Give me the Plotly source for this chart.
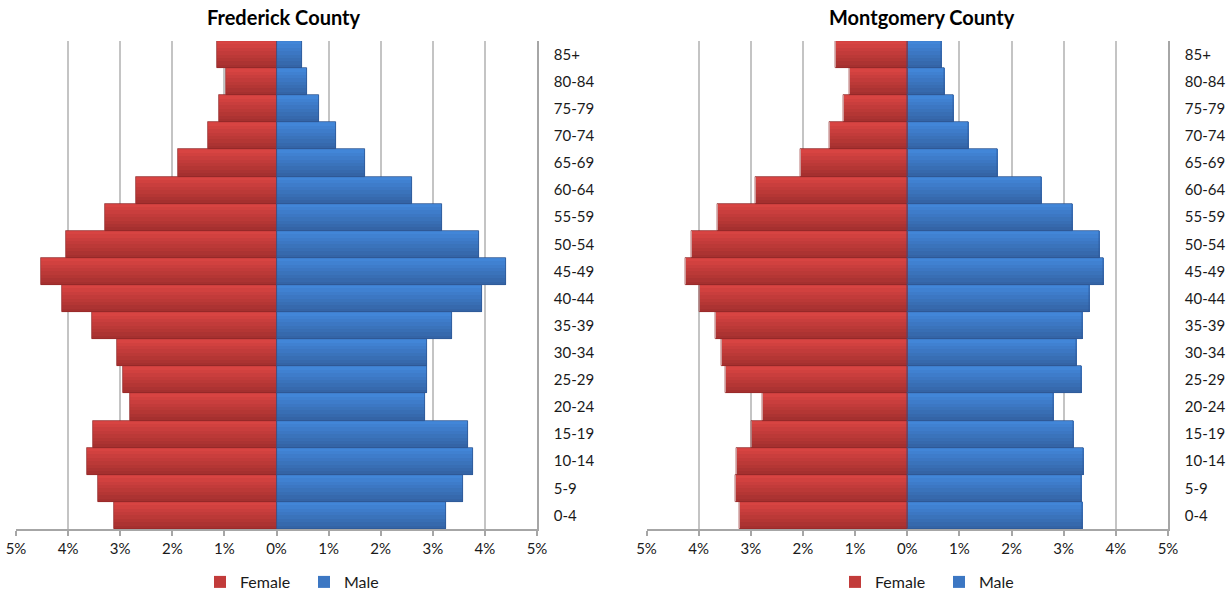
import plotly.graph_objects as go

age_groups = ["0-4", "5-9", "10-14", "15-19", "20-24", "25-29", "30-34", "35-39",
              "40-44", "45-49", "50-54", "55-59", "60-64", "65-69", "70-74",
              "75-79", "80-84", "85+"]

frederick_female = [3.11, 3.42, 3.63, 3.52, 2.82, 2.95, 3.06, 3.54, 4.12, 4.52,
                    4.05, 3.29, 2.70, 1.89, 1.32, 1.11, 0.97, 1.15]
frederick_male = [3.26, 3.58, 3.77, 3.68, 2.85, 2.89, 2.89, 3.37, 3.94, 4.41,
                  3.89, 3.18, 2.60, 1.70, 1.15, 0.82, 0.58, 0.49]

montgomery_female = [3.21, 3.30, 3.27, 2.98, 2.77, 3.49, 3.57, 3.68, 3.98, 4.26,
                     4.14, 3.63, 2.91, 2.05, 1.49, 1.22, 1.10, 1.37]
montgomery_male = [3.36, 3.34, 3.38, 3.19, 2.80, 3.35, 3.25, 3.36, 3.50, 3.77,
                   3.69, 3.17, 2.58, 1.74, 1.18, 0.89, 0.71, 0.66]

tick_values = [-5, -4, -3, -2, -1, 0, 1, 2, 3, 4, 5]
tick_labels = ["5%", "4%", "3%", "2%", "1%", "0%", "1%", "2%", "3%", "4%", "5%"]

FONT = "Lato, 'Open Sans', sans-serif"
N_BANDS = 8
RED_TOP, RED_BOT, RED_LINE = (216, 68, 66), (165, 48, 47), "rgb(150,42,42)"
BLUE_TOP, BLUE_BOT, BLUE_LINE = (66, 134, 216), (52, 100, 166), "rgb(46,88,150)"


def mix(c1, c2, t):
    return "rgb(%d,%d,%d)" % tuple(round(a + (b - a) * t) for a, b in zip(c1, c2))


fig = go.Figure()


def add_series(values, name, top, bot, line, xa, ya, legend):
    # gradient bands, bottom (dark) to top (light)
    for k in range(N_BANDS):
        t = 1 - k / (N_BANDS - 1)
        fig.add_trace(go.Bar(
            x=values, y=age_groups, orientation="h",
            width=1.0 / N_BANDS, offset=-0.5 + k / N_BANDS,
            marker=dict(color=mix(top, bot, t), line=dict(width=0)),
            name=name, legendgroup=name + legend, legend=legend,
            showlegend=(k == N_BANDS // 2),
            hoverinfo="skip" if k != N_BANDS // 2 else None,
            xaxis=xa, yaxis=ya,
        ))
    # outline
    fig.add_trace(go.Bar(
        x=values, y=age_groups, orientation="h", width=1.0, offset=-0.5,
        marker=dict(color="rgba(0,0,0,0)", line=dict(width=0.8, color=line)),
        showlegend=False, hoverinfo="skip", xaxis=xa, yaxis=ya,
        legendgroup=name + legend, legend=legend,
    ))


add_series([-v for v in frederick_female], "Female", RED_TOP, RED_BOT, RED_LINE, "x", "y", "legend")
add_series(frederick_male, "Male", BLUE_TOP, BLUE_BOT, BLUE_LINE, "x", "y", "legend")
add_series([-v for v in montgomery_female], "Female", RED_TOP, RED_BOT, RED_LINE, "x2", "y2", "legend2")
add_series(montgomery_male, "Male", BLUE_TOP, BLUE_BOT, BLUE_LINE, "x2", "y2", "legend2")

y_bottom = 1 - 529 / 592
y_top = 1 - 41 / 592

xaxis_common = dict(
    range=[-5, 5], tickmode="array", tickvals=tick_values, ticktext=tick_labels,
    showgrid=True, gridcolor="#c4c4c4", gridwidth=1.5, zeroline=False,
    showline=True, linecolor="#a6a6a6", linewidth=1.5,
    ticks="outside", ticklen=5, tickwidth=1.5, tickcolor="#a6a6a6",
    tickfont=dict(family=FONT, size=15, color="#1a1a1a"), fixedrange=True,
    automargin=False,
)
yaxis_common = dict(
    type="category", categoryorder="array", categoryarray=age_groups,
    side="right", showline=True, linecolor="#a6a6a6", linewidth=1.5,
    showgrid=False, zeroline=False, ticks="", ticklabelstandoff=12,
    tickfont=dict(family=FONT, size=15, color="#1a1a1a"), fixedrange=True,
    range=[-0.5, len(age_groups) - 0.5], automargin=False,
)

legend_common = dict(orientation="h", xanchor="left", y=1 - 582 / 592,
                     yanchor="middle", font=dict(family=FONT, size=16), itemwidth=30,
                     entrywidth=59, bgcolor="rgba(0,0,0,0)", traceorder="normal")

fig.update_layout(
    width=1230, height=592,
    margin=dict(l=0, r=0, t=0, b=0, autoexpand=False),
    paper_bgcolor="white", plot_bgcolor="white",
    barmode="overlay", bargap=0,
    font=dict(family=FONT, color="#1a1a1a"),
    xaxis=dict(domain=[16 / 1230, 537 / 1230], anchor="y", **xaxis_common),
    yaxis=dict(domain=[y_bottom, y_top], anchor="x", **yaxis_common),
    xaxis2=dict(domain=[646.5 / 1230, 1168 / 1230], anchor="y2", **xaxis_common),
    yaxis2=dict(domain=[y_bottom, y_top], anchor="x2", **yaxis_common),
    legend=dict(x=200 / 1230, **legend_common),
    legend2=dict(x=835 / 1230, **legend_common),
    annotations=[
        dict(text="<b>Frederick County</b>", x=283 / 1230, y=1 - 17 / 592, xref="paper",
             yref="paper", xanchor="center", yanchor="middle", showarrow=False,
             font=dict(family=FONT, size=20, color="#000")),
        dict(text="<b>Montgomery County</b>", x=922 / 1230, y=1 - 17 / 592, xref="paper",
             yref="paper", xanchor="center", yanchor="middle", showarrow=False,
             font=dict(family=FONT, size=20, color="#000")),
    ],
    showlegend=True,
)

fig.write_html(
    "out.html",
    config={"displayModeBar": False},
    post_script="document.body.style.margin='0';document.body.style.overflow='hidden';",
)
